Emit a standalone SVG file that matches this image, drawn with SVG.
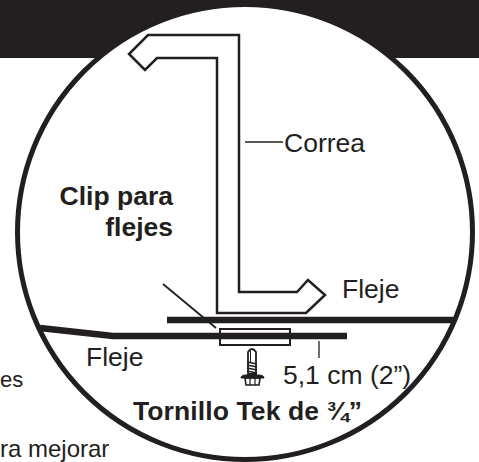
<svg xmlns="http://www.w3.org/2000/svg" width="479" height="462" viewBox="0 0 479 462">
<style>
text{font-family:"Liberation Sans",Arial,sans-serif;fill:#231f20;font-size:26.500px}
.b{font-weight:bold}
.o{fill:none;stroke:#231f20;stroke-width:2.500;stroke-linejoin:miter}
.t{fill:none;stroke:#231f20;stroke-width:1.300}
.k{fill:none;stroke:#231f20;stroke-width:6.500}
</style>
<rect width="479" height="462" fill="#fff"/>
<rect id="banner" width="479" height="58" fill="#231f20"/>
<circle id="lens" cx="245" cy="232" r="227.500" fill="#fff" stroke="#231f20" stroke-width="5"/>
<g id="connectors">
<path class="t" d="M245 142H283"/>
<path d="M163 284L216 328" fill="none" stroke="#231f20" stroke-width="1.800"/>
<path class="t" d="M319 341V358"/>
</g>
<g id="correa"><path class="o" d="M148 35H239V292H297L308 280L325 295L306 313H217V58H157L145 70L129 54Z"/></g>
<g id="flejes">
<path d="M167 320H453" class="k"/>
<path d="M40 328L113 336H347" class="k"/>
</g>
<g id="clip"><rect x="220" y="329" width="70" height="16" fill="none" stroke="#231f20" stroke-width="2"/></g>
<g id="tornillo" fill="#fff" stroke="#231f20" stroke-width="1.200">
<path d="M248 374V352Q252 346 256 352V374Z" stroke-width="1.800"/>
<path d="M250.500 351V362" stroke-width="1" fill="none"/>
<path d="M247 362L257 364M247 365L257 367M247 368L257 370M247 371L257 373" fill="none" stroke-width="1.500"/>
<path d="M245 378H260L259 385H246Z" stroke-width="1.600"/>
<path d="M241 378Q241 375 246 375H258Q264 375 264 378Z" fill="#231f20" stroke-width="1"/>
<path d="M250 378V385M255 378V385" fill="none"/>
</g>
<text x="284" y="152">Correa</text>
<text class="b" x="173" y="205" text-anchor="end">Clip para</text>
<text class="b" x="173" y="236" text-anchor="end">flejes</text>
<text x="342" y="298">Fleje</text>
<text x="86" y="366">Fleje</text>
<text x="283" y="384">5,1 cm (2”)</text>
<text class="b" x="133" y="420" textLength="229" lengthAdjust="spacing">Tornillo Tek de ¾”</text>
<text x="0" y="387" style="font-size:22px">es</text>
<text x="0" y="457" style="font-size:24px">ra mejorar</text>
</svg>
